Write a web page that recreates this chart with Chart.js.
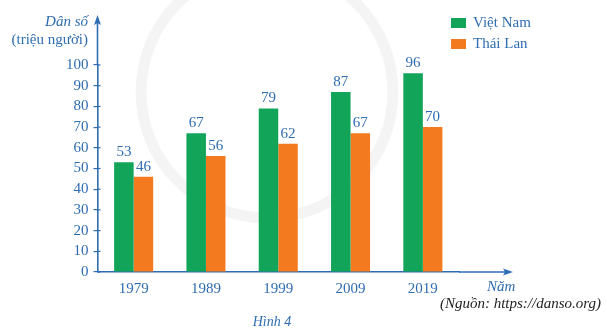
<!DOCTYPE html>
<html>
<head>
<meta charset="utf-8">
<script src="https://cdn.jsdelivr.net/npm/chart.js@4/dist/chart.umd.min.js"></script>
<style>
  html,body{margin:0;padding:0;background:#fff;}
  #wrap{width:607px;height:333px;position:relative;}
</style>
</head>
<body>
<div id="wrap"><canvas id="c" width="607" height="333"></canvas></div>
<script>
// data
const years = ['1979','1989','1999','2009','2019'];
const vietNam = [53, 67, 79, 87, 96];
const thaiLan = [46, 56, 62, 67, 70];
const seriesNames = ['Việt Nam', 'Thái Lan'];
const yTicks = [0,10,20,30,40,50,60,70,80,90,100];

const BLUE = '#2f6db2';
const GREEN = '#12a55a';
const ORANGE = '#f47a1f';
const SERIF = '"Liberation Serif", "DejaVu Serif", serif';

/* ============================
   Decorations: arrows, titles, legend, value labels
============================ */
const deco = {
  id: 'deco',
  beforeDatasetsDraw(chart){
    // faint watermark ring behind bars
    const ctx = chart.ctx;
    ctx.save();
    ctx.strokeStyle = 'rgba(0,0,0,0.045)';
    ctx.lineWidth = 11;
    ctx.beginPath(); ctx.arc(267, 92, 126, 0, Math.PI*2); ctx.stroke();
    ctx.restore();
  },
  afterDatasetsDraw(chart){
    const ctx = chart.ctx;
    ctx.save();
    // value labels above bars
    ctx.fillStyle = BLUE; ctx.font = '15px ' + SERIF;
    ctx.textAlign = 'center'; ctx.textBaseline = 'middle';
    chart.data.datasets.forEach((ds, di)=>{
      chart.getDatasetMeta(di).data.forEach((bar, i)=>{
        ctx.fillText(String(ds.data[i]), bar.x, bar.y - 10);
      });
    });
    ctx.restore();
  },
  afterDraw(chart){
    const ctx = chart.ctx, a = chart.chartArea;
    const x0 = chart.scales.x.left, y0 = chart.scales.y.getPixelForValue(0);
    ctx.save();
    ctx.strokeStyle = BLUE; ctx.fillStyle = BLUE; ctx.lineWidth = 1.6;
    // y axis extension + arrow
    ctx.beginPath(); ctx.moveTo(x0, a.top); ctx.lineTo(x0, 22); ctx.stroke();
    ctx.beginPath(); ctx.moveTo(x0, 15); ctx.lineTo(x0-3.5, 25); ctx.lineTo(x0, 23); ctx.lineTo(x0+3.5, 25); ctx.closePath(); ctx.fill();
    // x axis extension + arrow
    ctx.beginPath(); ctx.moveTo(a.right, y0); ctx.lineTo(506, y0); ctx.stroke();
    ctx.beginPath(); ctx.moveTo(513, y0); ctx.lineTo(503, y0-3.5); ctx.lineTo(505, y0); ctx.lineTo(503, y0+3.5); ctx.closePath(); ctx.fill();
    // small ticks crossing inside
    ctx.lineWidth = 1.2;
    yTicks.forEach(v=>{
      const y = chart.scales.y.getPixelForValue(v);
      ctx.beginPath(); ctx.moveTo(x0, y); ctx.lineTo(x0+3, y); ctx.stroke();
    });
    // axis titles
    ctx.textBaseline = 'middle';
    ctx.textAlign = 'right';
    ctx.font = 'italic 15px ' + SERIF; ctx.fillText('Dân số', 88, 22);
    ctx.font = '15px ' + SERIF; ctx.fillText('(triệu người)', 88, 40);
    ctx.textAlign = 'left';
    ctx.font = 'italic 15px ' + SERIF; ctx.fillText('Năm', 487, 287);
    // source + caption
    ctx.fillStyle = '#222';
    ctx.textAlign = 'right';
    ctx.font = 'italic 15px ' + SERIF; ctx.fillText('(Nguồn: https://danso.org)', 601, 304);
    ctx.fillStyle = BLUE; ctx.textAlign = 'center';
    ctx.font = 'italic 14px ' + SERIF; ctx.fillText('Hình 4', 272, 322);
    // legend
    const cols = [GREEN, ORANGE];
    ctx.textAlign = 'left'; ctx.font = '15px ' + SERIF;
    seriesNames.forEach((n, i)=>{
      const y = 18 + i*21;
      ctx.fillStyle = cols[i]; ctx.fillRect(451, y, 15, 10);
      ctx.fillStyle = BLUE; ctx.fillText(n, 473, y + 5);
    });
    ctx.restore();
  }
};

new Chart(document.getElementById('c').getContext('2d'), {
  type: 'bar',
  data: {
    labels: years,
    datasets: [
      { label: seriesNames[0], data: vietNam, backgroundColor: GREEN, categoryPercentage: 0.54, barPercentage: 1 },
      { label: seriesNames[1], data: thaiLan, backgroundColor: ORANGE, categoryPercentage: 0.54, barPercentage: 1 }
    ]
  },
  options: {
    responsive: false, animation: false,
    layout: { padding: { top: 65, right: 148, left: 0, bottom: 0 } },
    plugins: { legend: { display: false }, tooltip: { enabled: false } },
    scales: {
      x: {
        grid: { display: false },
        border: { color: BLUE, width: 1.6 },
        ticks: { color: BLUE, font: { family: SERIF, size: 15 }, padding: 0 },
        afterFit(s){ s.height = 61; }
      },
      y: {
        min: 0, max: 100,
        afterBuildTicks(s){ s.ticks = yTicks.map(v=>({ value: v })); },
        grid: { drawOnChartArea: false, color: BLUE, tickLength: 4, lineWidth: 1.2 },
        border: { color: BLUE, width: 1.6 },
        ticks: { color: BLUE, font: { family: SERIF, size: 15 }, padding: 5, autoSkip: false },
        afterFit(s){ s.width = 97.5; }
      }
    }
  },
  plugins: [deco]
});
</script>
</body>
</html>
